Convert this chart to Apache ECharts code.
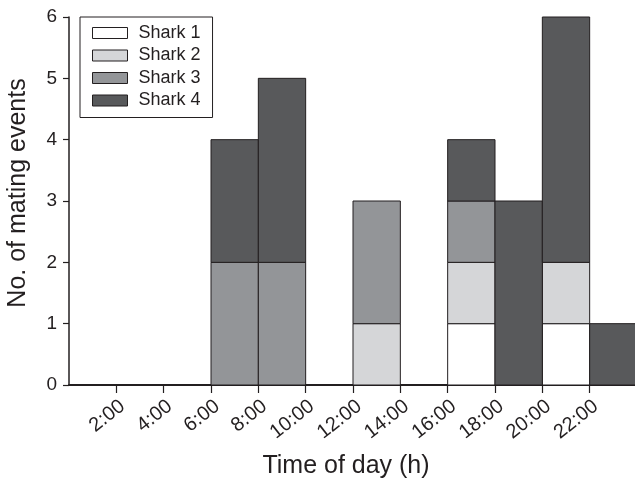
<!DOCTYPE html>
<html>
<head>
<meta charset="utf-8">
<script src="https://cdn.jsdelivr.net/npm/echarts@6/dist/echarts.min.js"></script>
<style>
* { margin: 0; padding: 0; }
html, body { background: #fff; }
</style>
</head>
<body>
<div id="main" style="width:635px;height:481px;"></div>
<script>
// bins: 2 h wide, start hour of each bin
var binStarts = [0, 2, 4, 6, 8, 10, 12, 14, 16, 18, 20, 22];
var sharkNames = ["Shark 1", "Shark 2", "Shark 3", "Shark 4"];
var shark1 = [0, 0, 0, 0, 0, 0, 0, 0, 1, 0, 1, 0];
var shark2 = [0, 0, 0, 0, 0, 0, 1, 0, 1, 0, 1, 0];
var shark3 = [0, 0, 0, 2, 2, 0, 2, 0, 1, 0, 0, 0];
var shark4 = [0, 0, 0, 2, 3, 0, 0, 0, 1, 3, 4, 1];
var xTickLabels = ["2:00", "4:00", "6:00", "8:00", "10:00", "12:00", "14:00", "16:00", "18:00", "20:00", "22:00"];
var yTicks = [0, 1, 2, 3, 4, 5, 6];

var colors = ["#ffffff", "#d5d6d8", "#939598", "#58595b"];
var ink = "#231f20";
var allSharks = [shark1, shark2, shark3, shark4];

var chart = echarts.init(document.getElementById("main"));

// stacked [x0, x1, bottom, top] per shark
var series = [];
var base = binStarts.map(function () { return 0; });
for (var s = 0; s < allSharks.length; s++) {
  var d = [];
  for (var i = 0; i < binStarts.length; i++) {
    var v = allSharks[s][i];
    if (v > 0) {
      d.push([binStarts[i], binStarts[i] + 2, base[i], base[i] + v]);
    }
    base[i] += v;
  }
  series.push({
    name: sharkNames[s],
    type: "custom",
    itemStyle: { color: colors[s], borderColor: ink, borderWidth: 1 },
    encode: { x: [0, 1], y: [2, 3] },
    renderItem: function (params, api) {
      var p0 = api.coord([api.value(0), api.value(3)]);
      var p1 = api.coord([api.value(1), api.value(2)]);
      return {
        type: "rect",
        shape: { x: p0[0], y: p0[1], width: p1[0] - p0[0], height: p1[1] - p0[1] },
        style: api.style()
      };
    },
    data: d
  });
}

chart.setOption({
  animation: false,
  textStyle: { fontFamily: "Liberation Sans, Arial, sans-serif", color: ink },
  grid: { left: 69, top: 17, width: 568, height: 368, outerBoundsMode: "none" },
  legend: {
    orient: "vertical",
    left: 80,
    top: 17,
    data: sharkNames,
    icon: "rect",
    itemWidth: 35,
    itemHeight: 11,
    itemGap: 4.5,
    padding: [7, 12, 8, 12],
    borderColor: ink,
    borderWidth: 1,
    textStyle: { fontSize: 18, color: ink, padding: [0, 0, 0, 6] },
    itemStyle: { borderColor: ink, borderWidth: 1 }
  },
  xAxis: {
    type: "value",
    min: 0,
    max: 24,
    interval: 2,
    name: "Time of day (h)",
    nameLocation: "middle",
    nameGap: 69,
    nameTextStyle: { fontSize: 25, color: ink, padding: [0, 14, 0, 0] },
    splitLine: { show: false },
    axisLine: { lineStyle: { color: ink, width: 2 } },
    axisTick: {
      length: 8,
      customValues: binStarts.slice(1),
      lineStyle: { color: ink, width: 1.2 }
    },
    axisLabel: {
      rotate: 38,
      fontSize: 20,
      color: ink,
      margin: 24,
      padding: [0, -8, 0, 0],
      formatter: function (v) {
        var k = v / 2 - 1;
        return (k >= 0 && k < xTickLabels.length) ? xTickLabels[k] : "";
      }
    }
  },
  yAxis: {
    type: "value",
    min: yTicks[0],
    max: yTicks[yTicks.length - 1],
    interval: 1,
    name: "No. of mating events",
    nameLocation: "middle",
    nameGap: 38,
    nameTextStyle: { fontSize: 25, color: ink, padding: [0, 0, 0, 16] },
    splitLine: { show: false },
    axisLine: { show: true, lineStyle: { color: ink, width: 1.5 } },
    axisTick: { show: true, length: 6, lineStyle: { color: ink, width: 1.2 } },
    axisLabel: { fontSize: 19, color: ink, margin: 12 }
  },
  series: series
});
</script>
</body>
</html>
